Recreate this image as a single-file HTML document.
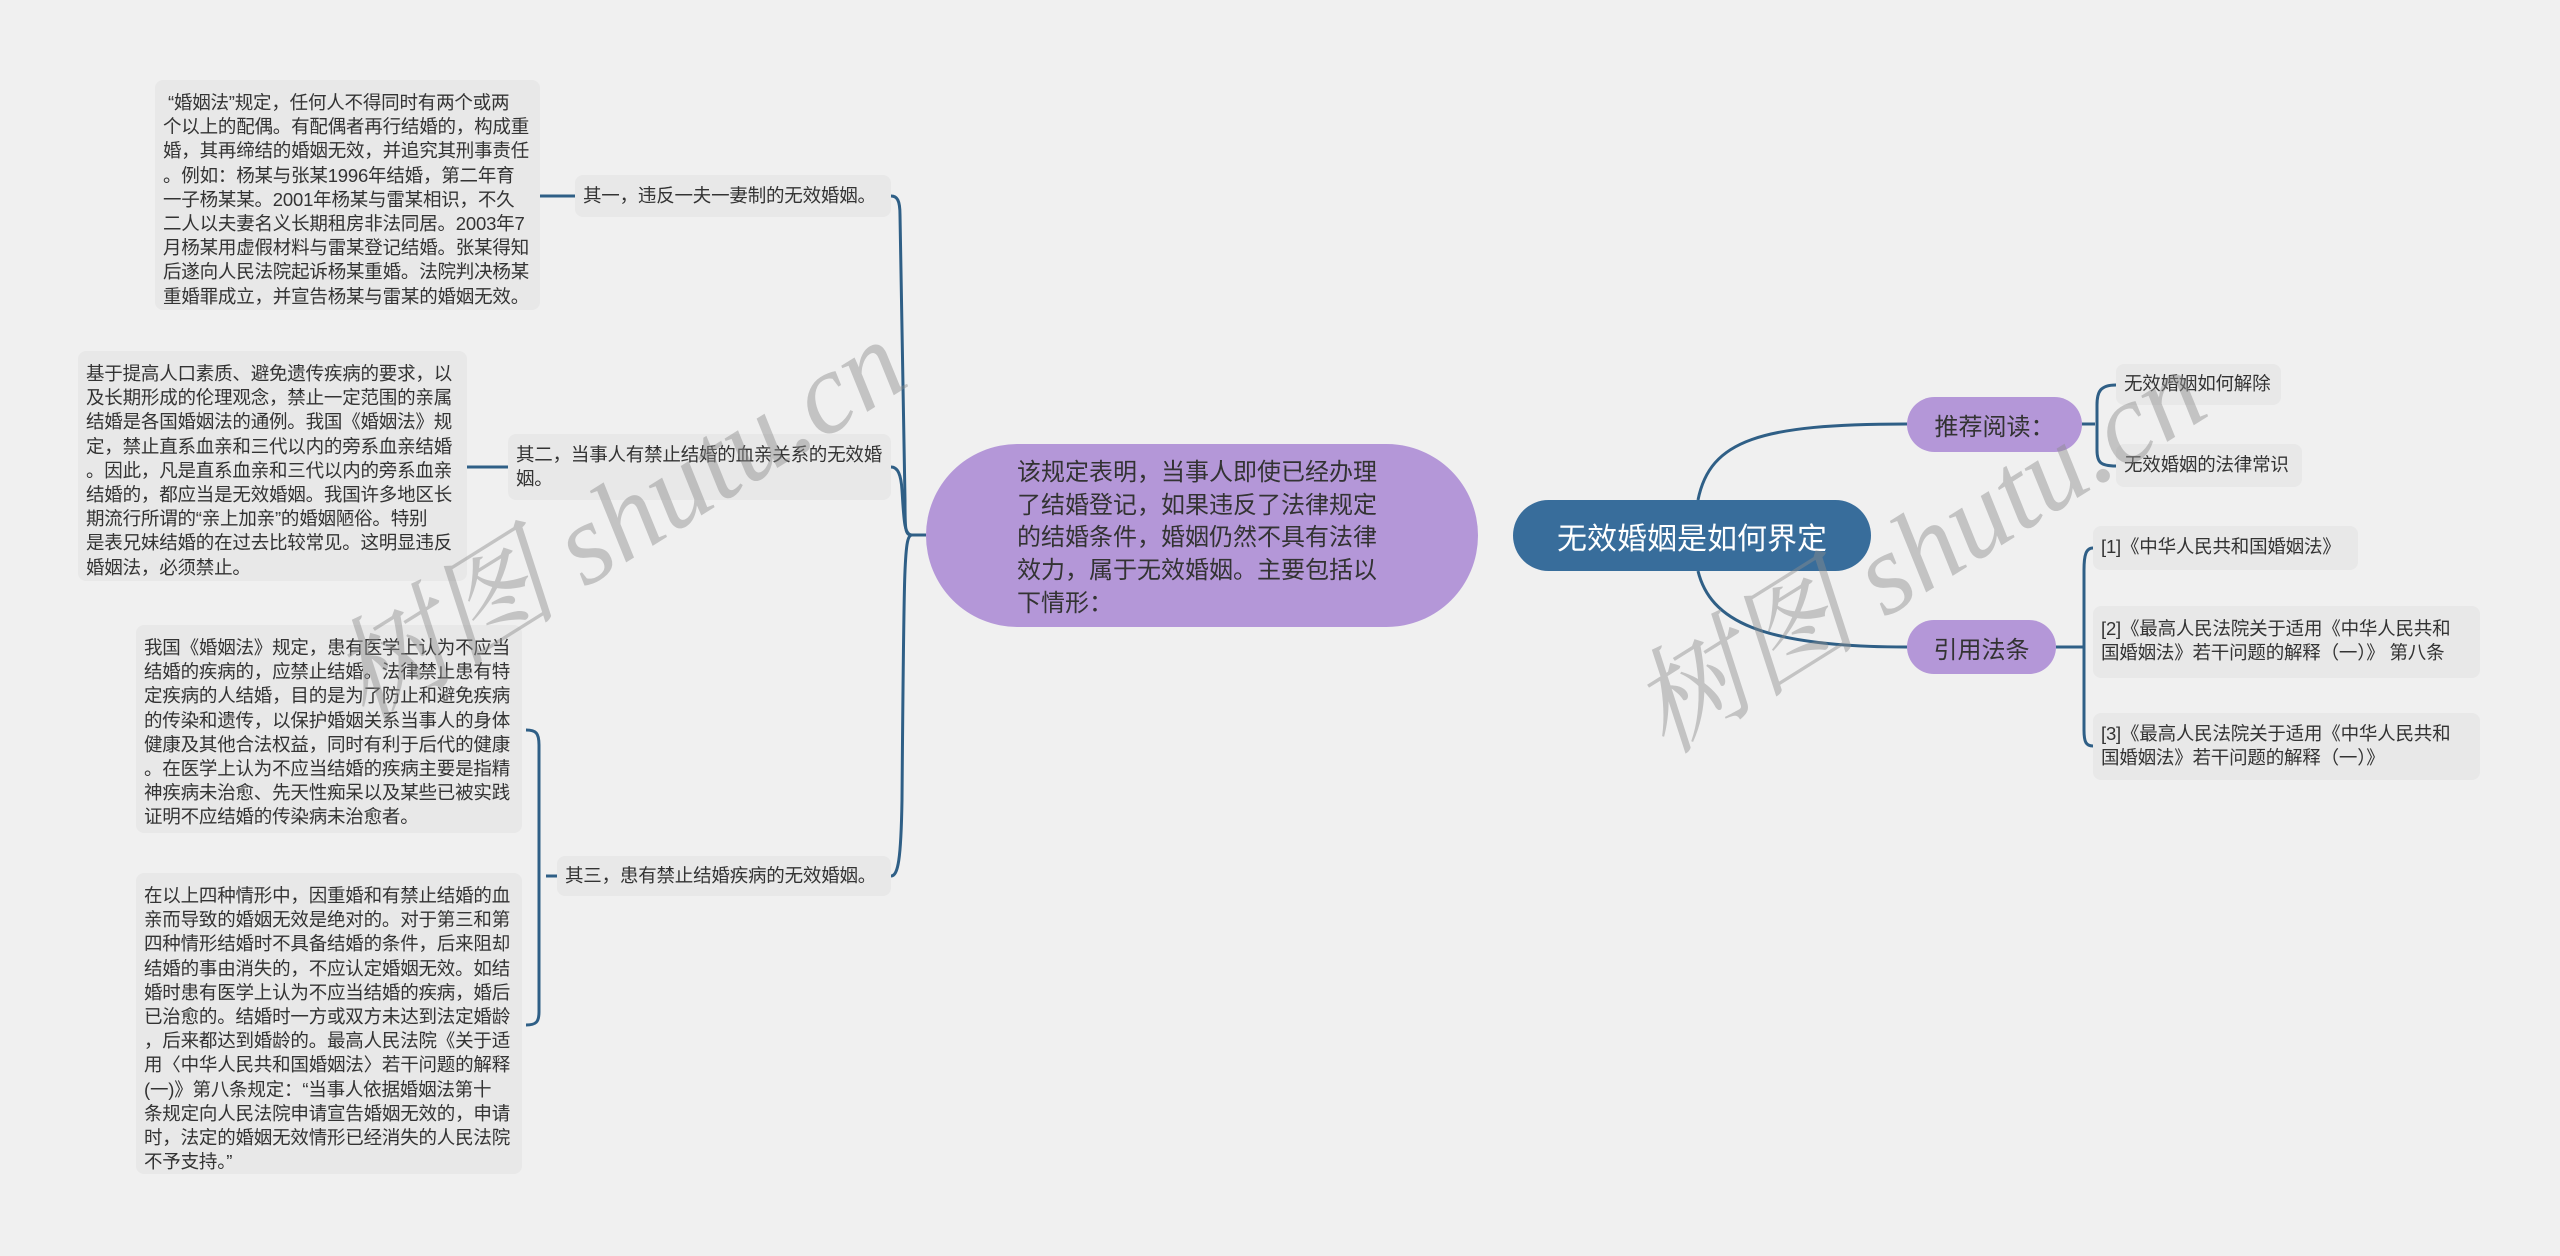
<!DOCTYPE html>
<html><head><meta charset="utf-8"><style>
body{margin:0;width:2560px;height:1256px;background:#f0f0f0;position:relative;overflow:hidden;font-family:"Liberation Sans","Noto Sans CJK SC",sans-serif;color:#333}
.b{position:absolute;background:#e8e8e8;border-radius:8px;box-sizing:border-box;font-size:18.5px;line-height:24.2px;padding:11px 8px;white-space:nowrap;letter-spacing:-0.2px}
.p{position:absolute;background:#b497d8;border-radius:30px;display:flex;align-items:center;justify-content:center;font-size:24px;color:#333}
.wm{position:absolute;font-size:115px;color:rgba(140,140,140,0.45);transform:rotate(-32deg);white-space:nowrap;font-family:"Liberation Serif","Noto Serif CJK SC",serif;font-style:italic}
</style></head><body>
<svg width="2560" height="1256" style="position:absolute;left:0;top:0" fill="none" stroke="#2f5f86" stroke-width="3">
<path d="M926 535 H912 C905 535 905 530 905 500 L900 215 C900 200 897 196 891 196"/>
<path d="M912 535 C904 535 904 520 902 490 C901 475 898 467 891 467"/>
<path d="M912 535 C904 535 904 560 902 800 C901 860 898 876 891 876"/>
<path d="M540 196 H575"/><path d="M467 467 H508"/>
<path d="M557 876 H546 M526 730 C536 730 539 733 539 745 V1012 C539 1022 536 1025 526 1025"/>
<path d="M1698 500 C1710 440 1760 424 1907 424"/>
<path d="M1698 571 C1710 620 1760 647 1907 647"/>
<path d="M2082 424 H2095 M2116 385 C2100 385 2097 392 2097 405 V450 C2097 462 2100 466 2116 466"/>
<path d="M2056 647 H2083 M2093 548 C2086 548 2084 555 2084 570 V730 C2084 742 2086 746 2093 746"/>
</svg>
<div class="b" style="left:155px;top:80px;width:385px;height:230px">&nbsp;“婚姻法”规定，任何人不得同时有两个或两<br>个以上的配偶。有配偶者再行结婚的，构成重<br>婚，其再缔结的婚姻无效，并追究其刑事责任<br>。例如：杨某与张某1996年结婚，第二年育<br>一子杨某某。2001年杨某与雷某相识，不久<br>二人以夫妻名义长期租房非法同居。2003年7<br>月杨某用虚假材料与雷某登记结婚。张某得知<br>后遂向人民法院起诉杨某重婚。法院判决杨某<br>重婚罪成立，并宣告杨某与雷某的婚姻无效。</div>
<div class="b" style="left:78px;top:351px;width:389px;height:230px">基于提高人口素质、避免遗传疾病的要求，以<br>及长期形成的伦理观念，禁止一定范围的亲属<br>结婚是各国婚姻法的通例。我国《婚姻法》规<br>定，禁止直系血亲和三代以内的旁系血亲结婚<br>。因此，凡是直系血亲和三代以内的旁系血亲<br>结婚的，都应当是无效婚姻。我国许多地区长<br>期流行所谓的“亲上加亲”的婚姻陋俗。特别<br>是表兄妹结婚的在过去比较常见。这明显违反<br>婚姻法，必须禁止。</div>
<div class="b" style="left:136px;top:625px;width:386px;height:208px">我国《婚姻法》规定，患有医学上认为不应当<br>结婚的疾病的，应禁止结婚。法律禁止患有特<br>定疾病的人结婚，目的是为了防止和避免疾病<br>的传染和遗传，以保护婚姻关系当事人的身体<br>健康及其他合法权益，同时有利于后代的健康<br>。在医学上认为不应当结婚的疾病主要是指精<br>神疾病未治愈、先天性痴呆以及某些已被实践<br>证明不应结婚的传染病未治愈者。</div>
<div class="b" style="left:136px;top:873px;width:386px;height:301px">在以上四种情形中，因重婚和有禁止结婚的血<br>亲而导致的婚姻无效是绝对的。对于第三和第<br>四种情形结婚时不具备结婚的条件，后来阻却<br>结婚的事由消失的，不应认定婚姻无效。如结<br>婚时患有医学上认为不应当结婚的疾病，婚后<br>已治愈的。结婚时一方或双方未达到法定婚龄<br>，后来都达到婚龄的。最高人民法院《关于适<br>用〈中华人民共和国婚姻法〉若干问题的解释<br>(一)》第八条规定：“当事人依据婚姻法第十<br>条规定向人民法院申请宣告婚姻无效的，申请<br>时，法定的婚姻无效情形已经消失的人民法院<br>不予支持。”</div>
<div class="b" style="left:575px;top:175px;width:316px;height:42px;padding-top:9px">其一，违反一夫一妻制的无效婚姻。</div>
<div class="b" style="left:508px;top:434px;width:383px;height:66px;padding-top:9px">其二，当事人有禁止结婚的血亲关系的无效婚<br>姻。</div>
<div class="b" style="left:557px;top:856px;width:334px;height:40px;padding-top:8px">其三，患有禁止结婚疾病的无效婚姻。</div>
<div style="position:absolute;left:926px;top:444px;width:552px;height:183px;background:#b497d8;border-radius:92px;box-sizing:border-box;padding:13px 0 0 91px;font-size:24px;line-height:32.7px;color:#333;white-space:nowrap">该规定表明，当事人即使已经办理<br>了结婚登记，如果违反了法律规定<br>的结婚条件，婚姻仍然不具有法律<br>效力，属于无效婚姻。主要包括以<br>下情形：</div>
<div style="position:absolute;left:1513px;top:500px;width:358px;height:71px;background:#386d9b;border-radius:36px;color:#fff;font-size:30px;display:flex;align-items:center;justify-content:center">无效婚姻是如何界定</div>
<div class="p" style="left:1907px;top:397px;width:175px;height:55px">推荐阅读：</div>
<div class="p" style="left:1907px;top:620px;width:149px;height:54px">引用法条</div>
<div class="b" style="left:2116px;top:364px;width:165px;height:41px;padding-top:8px">无效婚姻如何解除</div>
<div class="b" style="left:2116px;top:444px;width:186px;height:43px;padding-top:9px">无效婚姻的法律常识</div>
<div class="b" style="left:2093px;top:526px;width:265px;height:44px;padding-top:9px">[1]《中华人民共和国婚姻法》</div>
<div class="b" style="left:2093px;top:606px;width:387px;height:72px">[2]《最高人民法院关于适用《中华人民共和<br>国婚姻法》若干问题的解释（一）》 第八条</div>
<div class="b" style="left:2093px;top:713px;width:387px;height:67px;padding-top:9px">[3]《最高人民法院关于适用《中华人民共和<br>国婚姻法》若干问题的解释（一）》</div>
<div class="wm" style="left:290px;top:430px">树图 shutu.cn</div>
<div class="wm" style="left:1590px;top:460px">树图 shutu.cn</div>
</body></html>
